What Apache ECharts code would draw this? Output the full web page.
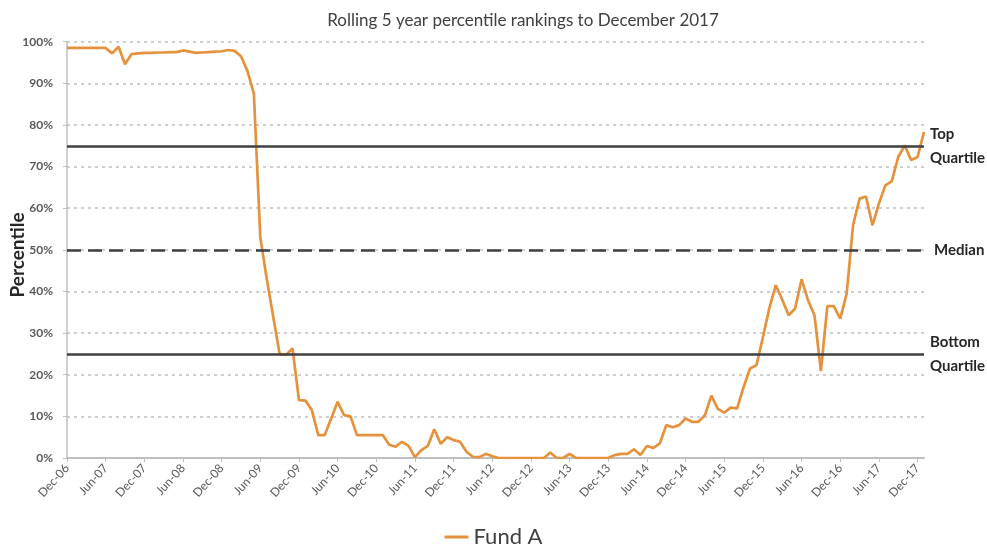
<!DOCTYPE html>
<html>
<head>
<meta charset="utf-8">
<script src="https://cdn.jsdelivr.net/npm/echarts@6/dist/echarts.min.js"></script>
<style>html,body{margin:0;padding:0;background:#fff}#c{width:987px;height:555px}</style>
</head>
<body>
<div id="c"></div>
<script>
const categories = [
 'Dec-06','Jan-07','Feb-07','Mar-07','Apr-07','May-07','Jun-07','Jul-07','Aug-07','Sep-07','Oct-07','Nov-07',
 'Dec-07','Jan-08','Feb-08','Mar-08','Apr-08','May-08','Jun-08','Jul-08','Aug-08','Sep-08','Oct-08','Nov-08',
 'Dec-08','Jan-09','Feb-09','Mar-09','Apr-09','May-09','Jun-09','Jul-09','Aug-09','Sep-09','Oct-09','Nov-09',
 'Dec-09','Jan-10','Feb-10','Mar-10','Apr-10','May-10','Jun-10','Jul-10','Aug-10','Sep-10','Oct-10','Nov-10',
 'Dec-10','Jan-11','Feb-11','Mar-11','Apr-11','May-11','Jun-11','Jul-11','Aug-11','Sep-11','Oct-11','Nov-11',
 'Dec-11','Jan-12','Feb-12','Mar-12','Apr-12','May-12','Jun-12','Jul-12','Aug-12','Sep-12','Oct-12','Nov-12',
 'Dec-12','Jan-13','Feb-13','Mar-13','Apr-13','May-13','Jun-13','Jul-13','Aug-13','Sep-13','Oct-13','Nov-13',
 'Dec-13','Jan-14','Feb-14','Mar-14','Apr-14','May-14','Jun-14','Jul-14','Aug-14','Sep-14','Oct-14','Nov-14',
 'Dec-14','Jan-15','Feb-15','Mar-15','Apr-15','May-15','Jun-15','Jul-15','Aug-15','Sep-15','Oct-15','Nov-15',
 'Dec-15','Jan-16','Feb-16','Mar-16','Apr-16','May-16','Jun-16','Jul-16','Aug-16','Sep-16','Oct-16','Nov-16',
 'Dec-16','Jan-17','Feb-17','Mar-17','Apr-17','May-17','Jun-17','Jul-17','Aug-17','Sep-17','Oct-17','Nov-17',
 'Dec-17','Jan-18'
];
const fundA = [
 98.5,98.5,98.5,98.5,98.5,98.5,98.5,97.2,98.8,94.6,97.0,97.2,
 97.3,97.3,97.4,97.4,97.5,97.5,97.9,97.6,97.3,97.4,97.5,97.6,
 97.7,98.0,97.8,96.5,93.0,87.5,53.0,43.0,34.0,25.0,24.8,26.3,
 13.9,13.8,11.5,5.5,5.5,9.5,13.5,10.3,10.0,5.5,5.5,5.5,
 5.5,5.5,3.2,2.7,3.9,2.9,0.2,1.9,2.9,6.9,3.4,5.0,
 4.3,3.9,1.5,0.3,0.2,1.0,0.4,0,0,0,0,0,
 0,0,0,1.3,0,0,1.0,0,0,0,0,0,
 0,0.7,1.0,1.0,2.1,0.7,2.9,2.4,3.5,7.9,7.4,7.9,
 9.5,8.7,8.7,10.3,15.0,11.8,10.9,12.1,11.9,17.0,21.5,22.3,
 29.0,36.0,41.5,38.0,34.3,35.9,42.9,37.9,34.3,20.9,36.5,36.5,
 33.5,39.5,56.0,62.3,62.8,55.9,61.1,65.5,66.5,72.3,75.1,71.6,
 72.3,78.3
];
const refLevels = [75, 50, 25];
const refLabels = ['Top\nQuartile', 'Median', 'Bottom\nQuartile'];
const yTicks = [0,10,20,30,40,50,60,70,80,90,100];
const yAxisTitle = 'Percentile';

const chart = echarts.init(document.getElementById('c'), null, {renderer: 'canvas'});
const FONT = 'Lato';
chart.setOption({
  animation: false,
  backgroundColor: '#ffffff',
  title: {
    text: 'Rolling 5 year percentile rankings to December 2017',
    left: 518, top: 7, textAlign: 'center',
    textStyle: {fontFamily: FONT, fontSize: 17, fontWeight: 'normal', color: '#404040'}
  },
  graphic: [{
    type: 'text', x: 18, y: 255, rotation: Math.PI / 2,
    style: {text: yAxisTitle, fontFamily: FONT, fontSize: 19, fontWeight: 'bold', fill: '#262626',
      align: 'center', verticalAlign: 'middle'}
  }],
  legend: {
    bottom: 2, left: 'center',
    icon: 'rect', itemWidth: 24, itemHeight: 3, itemGap: 8,
    textStyle: {fontFamily: FONT, fontSize: 22, color: '#404040'},
    data: ['Fund A']
  },
  grid: {left: 67, right: 63, top: 41.7, bottom: 97, containLabel: false, outerBoundsMode: 'none'},
  xAxis: {
    type: 'category', data: categories, boundaryGap: false,
    axisLine: {lineStyle: {color: '#bfbfbf', width: 2}},
    axisTick: {show: true, interval: 5, length: 4, inside: false, lineStyle: {color: '#bfbfbf'}},
    axisLabel: {interval: 5, rotate: 48, fontFamily: FONT, fontSize: 12, color: '#595959', margin: 8},
    splitLine: {show: false}
  },
  yAxis: {
    type: 'value', min: 0, max: 100, interval: 10,
    axisLine: {show: true, lineStyle: {color: '#bfbfbf', width: 1.5}},
    axisTick: {show: true, length: 4, lineStyle: {color: '#bfbfbf'}},
    axisLabel: {fontFamily: FONT, fontSize: 12, fontWeight: 'bold', color: '#595959', margin: 14,
      formatter: v => yTicks.indexOf(v) >= 0 ? v + '%' : ''},
    splitLine: {show: true, lineStyle: {color: '#c0c0c0', type: [3, 4], width: 1.5}}
  },
  series: [{
    name: 'Fund A', type: 'line', data: fundA,
    showSymbol: false, symbol: 'none',
    color: '#E6913C',
    lineStyle: {color: '#E6913C', width: 2.7},
    z: 3,
    markLine: {
      silent: true, symbol: ['none', 'none'], animation: false,
      data: refLevels.map((v, k) => ({
        yAxis: v,
        lineStyle: {color: '#3f3f3f', width: 2.5, type: v === 50 ? [14, 7] : 'solid'},
        label: {show: true, position: 'end', formatter: refLabels[k], distance: v === 50 ? 10 : 6,
          fontFamily: FONT, fontSize: 15, fontWeight: 'bold', color: '#262626', lineHeight: 24, align: 'left'}
      }))
    }
  }]
});
</script>
</body>
</html>
